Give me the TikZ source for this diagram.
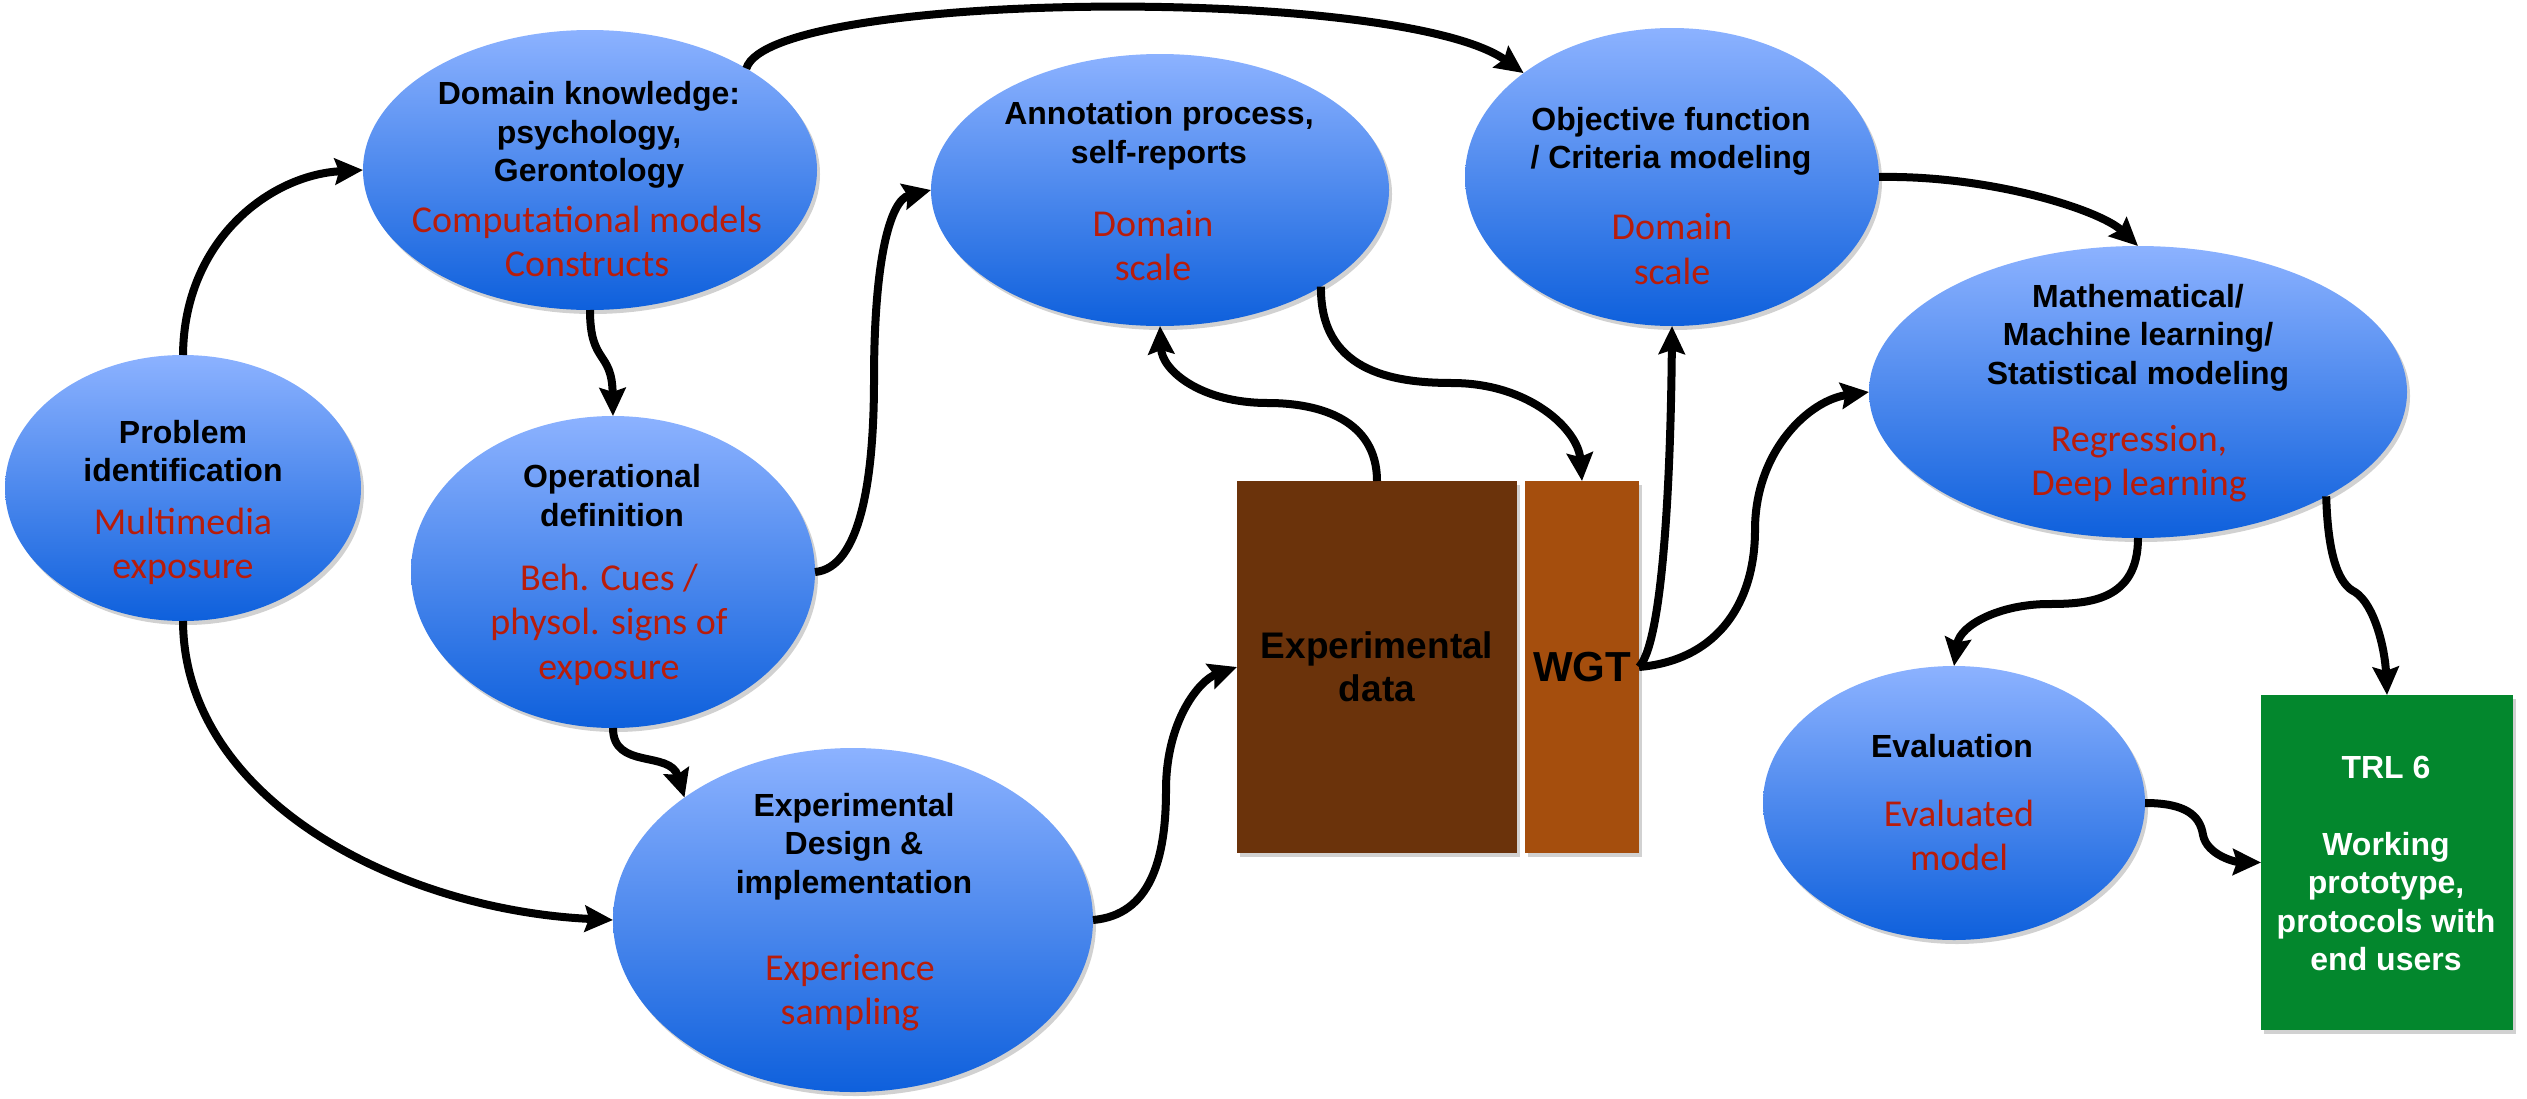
\documentclass[tikz,border=0pt]{standalone}
\usepackage{fontspec}
\setmainfont{Liberation Sans}
\newfontfamily\redfont{Carlito}
\usetikzlibrary{arrows.meta,shadows,shapes.geometric}
\definecolor{topblue}{RGB}{140,178,255}
\definecolor{botblue}{RGB}{14,96,220}
\definecolor{redtxt}{RGB}{184,28,10}
\definecolor{xdcol}{RGB}{107,51,11}
\definecolor{wgtcol}{RGB}{165,78,13}
\definecolor{trlcol}{RGB}{3,135,45}
\newcommand{\tl}[1]{\begin{tabular}[t]{@{}c@{}}#1\end{tabular}}
\begin{document}
\begin{tikzpicture}[x=1pt,y=-1pt,
  shadowed/.style={drop shadow={shadow xshift=3pt,shadow yshift=-4pt,opacity=0.3,fill=black!60}},
  bubble/.style={ellipse,inner sep=0pt,outer sep=0pt,top color=topblue,bottom color=botblue,draw=none,shadowed},
  box/.style={rectangle,inner sep=0pt,outer sep=0pt,draw=none,shadowed},
  blk/.style={inner sep=0pt,anchor=base,font=\bfseries\fontsize{32pt}{38.5pt}\selectfont},
  redt/.style={inner sep=0pt,anchor=base,text=redtxt,font=\redfont\fontsize{38pt}{44.5pt}\selectfont},
  arr/.style={line width=8pt,-{Stealth[length=28pt,width=26pt,inset=4pt]}}]
\useasboundingbox (0,0) rectangle (2527,1098);
% ellipses
\node[bubble,minimum width=356pt,minimum height=266pt] (pi) at (183,488) {};
\node[bubble,minimum width=454pt,minimum height=280pt] (dk) at (590,170) {};
\node[bubble,minimum width=404pt,minimum height=312pt] (od) at (613,572) {};
\node[bubble,minimum width=480pt,minimum height=344pt] (ed) at (853,920) {};
\node[bubble,minimum width=458pt,minimum height=272pt] (an) at (1160,190) {};
\node[bubble,minimum width=414pt,minimum height=298pt] (of) at (1672,177) {};
\node[bubble,minimum width=538pt,minimum height=292pt] (ml) at (2138,392) {};
\node[bubble,minimum width=382pt,minimum height=274pt] (ev) at (1954,803) {};
% boxes
\node[box,fill=xdcol,minimum width=280pt,minimum height=372pt] (xd) at (1377,667) {};
\node[box,fill=wgtcol,minimum width=114pt,minimum height=372pt] (wgt) at (1582,667) {};
\node[box,fill=trlcol,minimum width=252pt,minimum height=335pt] (trl) at (2387,862.5) {};
% texts
\node[blk] (pit) at (183,443) {\tl{Problem\\identification}};
\node[redt] (pir) at (183,534) {\tl{Multimedia\\exposure}};
\node[blk] (dkt) at (589,104.5) {\tl{Domain knowledge:\\psychology,\\Gerontology}};
\node[redt] (dkr) at (587,232) {\tl{Computational models\\Constructs}};
\node[blk] (odt) at (612,487.5) {\tl{Operational\\definition}};
\node[redt] (odr) at (609,590) {\tl{Beh. Cues /\\physol. signs of\\exposure}};
\node[blk] (edt) at (854,816) {\tl{Experimental\\Design \&\\implementation}};
\node[redt] (edr) at (850,980) {\tl{Experience\\sampling}};
\node[blk] (ant) at (1159,124.5) {\tl{Annotation process,\\self-reports}};
\node[redt] (anr) at (1153,236) {\tl{Domain\\scale}};
\node[blk] (oft) at (1671,130) {\tl{Objective function\\/ Criteria modeling}};
\node[redt] (ofr) at (1672,239.5) {\tl{Domain\\scale}};
\node[blk] (mlt) at (2138,307) {\tl{Mathematical/\\Machine learning/\\Statistical modeling}};
\node[redt] (mlr) at (2139,451) {\tl{Regression,\\Deep learning}};
\node[blk] (evt) at (1952,757) {Evaluation};
\node[redt] (evr) at (1959,826) {\tl{Evaluated\\model}};
\node[inner sep=0pt,anchor=base,font=\bfseries\fontsize{37pt}{43pt}\selectfont] (xdt) at (1377,658) {\tl{Experimental\\data}};
\node[inner sep=0pt,anchor=base,font=\bfseries\fontsize{42pt}{48pt}\selectfont] (wgtt) at (1582,681) {WGT};
\node[blk,text=white] (trlt) at (2386,778) {\tl{TRL 6\\ \\Working\\prototype,\\protocols with\\end users}};
% connectors
\draw[arr] (pi.north) .. controls (184,240) and (270,175) .. (dk.west);
\draw[arr] (dk.south) .. controls (590,365) and (612,350) .. (od.north);
\draw[arr] (od.east) .. controls (860,568) and (874,480) .. (874,380) .. controls (874,260) and (890,200) .. (an.west);
\draw[arr] (dk.33) .. controls (770,-10) and (1400,-15) .. (of.145);
\draw[arr] (of.east) .. controls (1990,175) and (2100,210) .. (ml.north);
\draw[arr] (an.-31) .. controls (1320,370) and (1390,383) .. (1452,383) .. controls (1530,383) and (1578,430) .. (wgt.north);
\draw[arr] (xd.north) .. controls (1377,420) and (1320,403) .. (1268,403) .. controls (1200,403) and (1162,370) .. (an.south);
\draw[arr] (wgt.east) .. controls (1665,640) and (1671,450) .. (of.south);
\draw[arr] (wgt.east) .. controls (1720,660) and (1755,600) .. (1755,530) .. controls (1755,450) and (1810,400) .. (ml.west);
\draw[arr] (ed.east) .. controls (1150,915) and (1166,860) .. (1166,790) .. controls (1166,720) and (1200,680) .. (xd.west);
\draw[arr] (pi.south) .. controls (184,800) and (400,910) .. (ed.west);
\draw[arr] (od.south) .. controls (613,770) and (670,750) .. (ed.144);
\draw[arr] (ml.south) .. controls (2138,600) and (2090,604) .. (2049,604) .. controls (2000,604) and (1960,625) .. (ev.north);
\draw[arr] (ml.-29) .. controls (2328,560) and (2340,585) .. (2355,592) .. controls (2375,605) and (2385,650) .. (trl.north);
\draw[arr] (ev.east) .. controls (2185,803) and (2200,815) .. (2203,835) .. controls (2207,855) and (2235,862) .. (trl.west);
\end{tikzpicture}
\end{document}
